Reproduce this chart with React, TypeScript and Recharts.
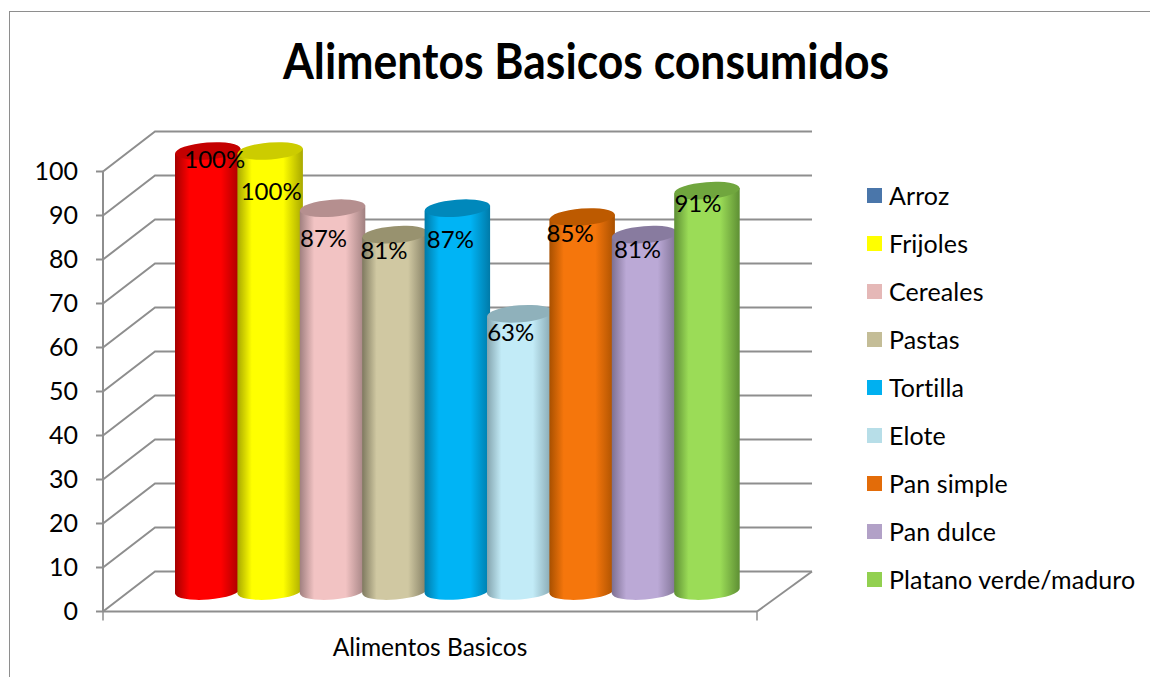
import React from "react";
import { BarChart, Bar, XAxis, YAxis, CartesianGrid, Legend, LabelList } from "recharts";

const category = "Alimentos Basicos";
const seriesNames = ["Arroz", "Frijoles", "Cereales", "Pastas", "Tortilla", "Elote", "Pan simple", "Pan dulce", "Platano verde/maduro"];
const seriesValues = [100, 100, 87, 81, 87, 63, 85, 81, 91];
const yTicks = [0, 10, 20, 30, 40, 50, 60, 70, 80, 90, 100];

const legendColors = ["#4a76aa", "#ffff00", "#e5b8b7", "#c4bd97", "#00b0f0", "#b7dee8", "#e36c09", "#b2a1c7", "#92d050"];
const bodyColors = ["#ff0000", "#ffff00", "#f2c3c3", "#d0c8a2", "#00b4f5", "#c2ebf7", "#f5760c", "#bba9d6", "#9bdc57"];
const edgeColors = ["#a50000", "#a8a800", "#a08080", "#7f7a60", "#007aa8", "#84a4ae", "#a85000", "#7d7092", "#5e8f34"];
const capColors = ["#c40000", "#cccc00", "#b58f8f", "#98926f", "#0088bb", "#8fb1bb", "#bd5a00", "#887b9f", "#70a63e"];

// los rotulos del original estan movidos a mano
const labelNudgeX = [7, 1, -9, -11, -7, -9, -12, -7, -9];
const labelNudgeY = [7, 39, 29, 15, 30, 18, 15, 14, 12];

const data = [
  seriesNames.reduce<Record<string, string | number>>(
    (row, name, i) => {
      row[name] = seriesValues[i];
      return row;
    },
    { category }
  ),
];

const FONT = "Lato, sans-serif";
const GRID = "#8e8e8e";
const PLOT_BOTTOM = 611.5;
const DEPTH_X = 52;
const DEPTH_Y = 40;
const BACK_RIGHT = 812;
const BAR_SHIFT_X = 26;
const BAR_SHIFT_Y = -20.5;
const BAR_EXTRA = 3.5;
const SLOT_FIX = 0.4; // recharts trunca el ancho de barra a entero
const RY = 8.5;
const TILT = -4.5;

function cylinder(index: number) {
  return (props: any) => {
    const { x, y, width, height } = props;
    const left = x + BAR_SHIFT_X + index * SLOT_FIX;
    const w = width + BAR_EXTRA;
    const rx = w / 2;
    const top = y + BAR_SHIFT_Y;
    const base = y + height + BAR_SHIFT_Y;
    const slope = Math.tan((TILT * Math.PI) / 180) * w;
    const cx = left + rx;
    return (
      <g>
        <path
          d={`M${left},${top - slope / 2} L${left},${base - slope / 2} A${rx},${RY} ${TILT} 0 0 ${left + w},${base + slope / 2} L${left + w},${top + slope / 2} Z`}
          fill={`url(#cyl-${index})`}
        />
        <ellipse cx={cx} cy={top} rx={rx} ry={RY} fill={capColors[index]} transform={`rotate(${TILT} ${cx} ${top})`} />
      </g>
    );
  };
}

function percentLabel(index: number) {
  return (props: any) => {
    const { x, y, width, value } = props;
    return (
      <text
        x={x + BAR_SHIFT_X + index * SLOT_FIX + (width + BAR_EXTRA) / 2 + labelNudgeX[index]}
        y={y + BAR_SHIFT_Y + labelNudgeY[index]}
        textAnchor="middle"
        dominantBaseline="central"
        fontFamily={FONT}
        fontSize={24}
        fill="#000"
      >
        {value}%
      </text>
    );
  };
}

// pared lateral y pared del fondo, sale de las lineas de la rejilla
function gridLine(props: any) {
  const { x1, x2, y1 } = props;
  const backY = y1 - DEPTH_Y;
  const isFloor = Math.abs(y1 - PLOT_BOTTOM) < 1;
  return (
    <g key={`g-${y1}`} fill="none" stroke={GRID} strokeWidth={2}>
      <polyline points={`${x1},${y1} ${x1 + DEPTH_X},${backY} ${BACK_RIGHT},${backY}`} />
      {isFloor && <line x1={x2} y1={y1} x2={BACK_RIGHT} y2={backY} />}
      {isFloor && <line x1={x1} y1={y1} x2={x1} y2={y1 + 9} strokeWidth={1.5} />}
      {isFloor && <line x1={x2} y1={y1} x2={x2} y2={y1 + 9} strokeWidth={1.5} />}
    </g>
  );
}

function LegendList(props: any) {
  return (
    <div style={{ fontFamily: FONT, fontSize: 25, letterSpacing: 0.1, color: "#000" }}>
      {props.payload.map((item: any) => (
        <div key={item.value} style={{ display: "flex", alignItems: "center", height: 48 }}>
          <span style={{ width: 15, height: 15, background: item.color, marginRight: 7 }} />
          <span style={{ whiteSpace: "nowrap" }}>{item.value}</span>
        </div>
      ))}
    </div>
  );
}

export default function App() {
  return (
    <div style={{ position: "absolute", left: 0, top: 0, width: 1150, height: 677, overflow: "hidden", background: "#fff" }}>
      <div style={{ position: "absolute", left: 9, top: 11, width: 1300, height: 800, border: "1.5px solid #8e8e8e" }} />
      <BarChart
        width={1150}
        height={677}
        data={data}
        margin={{ top: 171.5, right: 393, bottom: 0, left: 0 }}
        barGap={0}
        barCategoryGap={46}
        style={{ position: "absolute", left: 0, top: 0 }}
      >
        <defs>
          {bodyColors.map((color, i) => (
            <linearGradient key={color} id={`cyl-${i}`} x1="0" y1="0" x2="1" y2="0">
              <stop offset="0" stopColor={edgeColors[i]} />
              <stop offset="0.22" stopColor={color} />
              <stop offset="0.7" stopColor={color} />
              <stop offset="1" stopColor={edgeColors[i]} />
            </linearGradient>
          ))}
        </defs>
        <text x={586} y={60} textAnchor="middle" dominantBaseline="central" fontFamily={FONT} fontWeight={700} fontSize={49} fill="#000" textLength={606} lengthAdjust="spacingAndGlyphs">
          Alimentos Basicos consumidos
        </text>
        <CartesianGrid vertical={false} horizontal={gridLine} />
        <XAxis
          dataKey="category"
          height={65.5}
          stroke={GRID}
          strokeWidth={2}
          tickLine={false}
          tickMargin={21}
          tick={{ fill: "#000", fontSize: 24.5, fontFamily: FONT }}
        />
        <YAxis
          domain={[0, 100]}
          ticks={yTicks}
          width={103}
          stroke={GRID}
          strokeWidth={2}
          tickSize={7}
          tickMargin={18}
          tick={{ fill: "#000", fontSize: 25, fontFamily: FONT }}
        />
        <Legend
          layout="vertical"
          align="center"
          verticalAlign="middle"
          itemSorter={null}
          content={<LegendList />}
          wrapperStyle={{ left: 867, top: 171, width: 280, bottom: "auto", right: "auto" }}
        />
        {seriesNames.map((name, i) => (
          <Bar key={name} dataKey={name} fill={legendColors[i]} shape={cylinder(i)} isAnimationActive={false}>
            <LabelList dataKey={name} content={percentLabel(i)} />
          </Bar>
        ))}
      </BarChart>
    </div>
  );
}
